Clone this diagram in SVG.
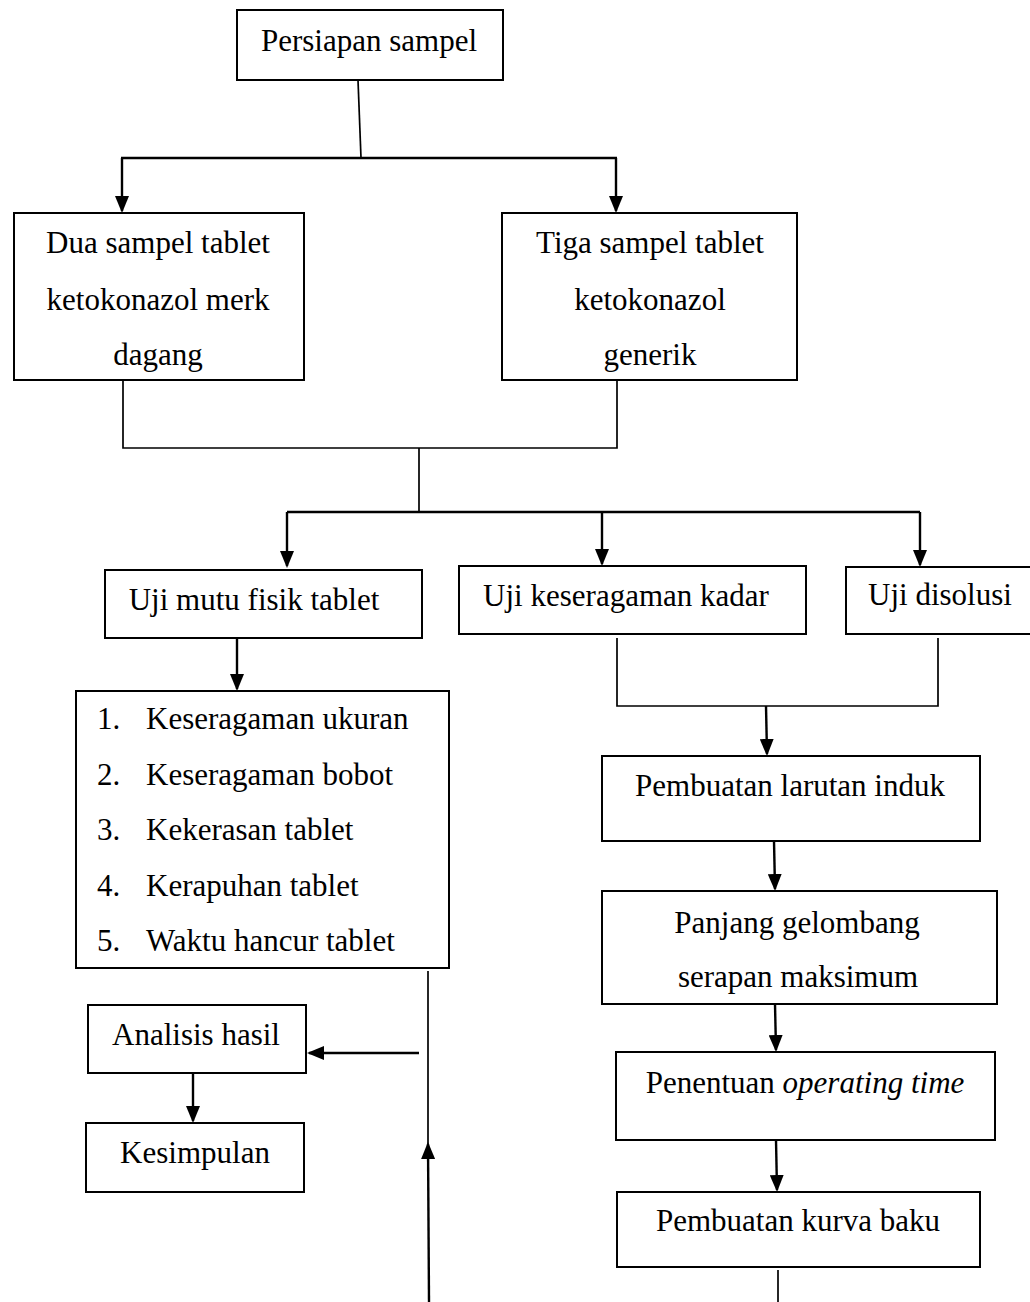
<svg xmlns="http://www.w3.org/2000/svg" width="1030" height="1302" viewBox="0 0 1030 1302">
<style>
.box{fill:#fff;stroke:#000;stroke-width:2}
.t{font-family:"Liberation Serif","Times New Roman",serif;font-size:31px;fill:#000;text-anchor:middle}
.l{font-family:"Liberation Serif","Times New Roman",serif;font-size:31px;fill:#000}
.c{fill:none;stroke:#000;stroke-width:1.7}
.a{fill:none;stroke:#000;stroke-width:2.4}
</style>
<defs>
<marker id="ah" viewBox="0 0 17 14" refX="15" refY="7" markerWidth="17" markerHeight="14" markerUnits="userSpaceOnUse" orient="auto">
<path d="M0,0 L17,7 L0,14 z" fill="#000"/>
</marker>
</defs>
<rect width="1030" height="1302" fill="#fff"/>
<g id="connectors">
<path class="c" d="M358,80 L361,158"/>
<path class="a" d="M121,158 L617,158"/>
<path class="a" d="M122,158 L122,211" marker-end="url(#ah)"/>
<path class="a" d="M616,158 L616,211" marker-end="url(#ah)"/>
<path class="c" d="M123,380 L123,448 L617,448 L617,380"/>
<path class="c" d="M419,448 L419,512"/>
<path class="a" d="M287,512 L920,512"/>
<path class="a" d="M287,512 L287,566" marker-end="url(#ah)"/>
<path class="a" d="M602,512 L602,564" marker-end="url(#ah)"/>
<path class="a" d="M920,512 L920,565" marker-end="url(#ah)"/>
<path class="a" d="M237,638 L237,689" marker-end="url(#ah)"/>
<path class="c" d="M617,638 L617,706 L938,706 L938,638"/>
<path class="a" d="M766,706 L767,754" marker-end="url(#ah)"/>
<path class="a" d="M774,841 L775,889" marker-end="url(#ah)"/>
<path class="a" d="M775,1004 L776,1050" marker-end="url(#ah)"/>
<path class="a" d="M776,1140 L777,1190" marker-end="url(#ah)"/>
<path class="c" d="M778,1270 L778,1302"/>
<path class="c" d="M428,971 L428,1150"/>
<path class="a" d="M429,1302 L428,1144" marker-end="url(#ah)"/>
<path class="a" d="M419,1053 L309,1053" marker-end="url(#ah)"/>
<path class="a" d="M193,1073 L193,1121" marker-end="url(#ah)"/>
</g>
<g id="n-persiapan">
<rect class="box" x="237" y="10" width="266" height="70"/>
<text class="t" x="369" y="51">Persiapan sampel</text>
</g>
<g id="n-dua">
<rect class="box" x="14" y="213" width="290" height="167"/>
<text class="t" x="158" y="253">Dua sampel tablet</text>
<text class="t" x="158" y="310">ketokonazol merk</text>
<text class="t" x="158" y="365">dagang</text>
</g>
<g id="n-tiga">
<rect class="box" x="502" y="213" width="295" height="167"/>
<text class="t" x="650" y="253">Tiga sampel tablet</text>
<text class="t" x="650" y="310">ketokonazol</text>
<text class="t" x="650" y="365">generik</text>
</g>
<g id="n-mutu">
<rect class="box" x="105" y="570" width="317" height="68"/>
<text class="t" x="254" y="610">Uji mutu fisik tablet</text>
</g>
<g id="n-kadar">
<rect class="box" x="459" y="566" width="347" height="68"/>
<text class="t" x="626" y="606">Uji keseragaman kadar</text>
</g>
<g id="n-disolusi">
<rect class="box" x="846" y="567" width="190" height="67"/>
<text class="t" x="940" y="605">Uji disolusi</text>
</g>
<g id="n-list">
<rect class="box" x="76" y="691" width="373" height="277"/>
<text class="l" x="97" y="729">1.</text><text class="l" x="146" y="729">Keseragaman ukuran</text>
<text class="l" x="97" y="785">2.</text><text class="l" x="146" y="785">Keseragaman bobot</text>
<text class="l" x="97" y="840">3.</text><text class="l" x="146" y="840">Kekerasan tablet</text>
<text class="l" x="97" y="896">4.</text><text class="l" x="146" y="896">Kerapuhan tablet</text>
<text class="l" x="97" y="951">5.</text><text class="l" x="146" y="951">Waktu hancur tablet</text>
</g>
<g id="n-analisis">
<rect class="box" x="88" y="1005" width="218" height="68"/>
<text class="t" x="196" y="1045">Analisis hasil</text>
</g>
<g id="n-kesimpulan">
<rect class="box" x="86" y="1123" width="218" height="69"/>
<text class="t" x="195" y="1163">Kesimpulan</text>
</g>
<g id="n-induk">
<rect class="box" x="602" y="756" width="378" height="85"/>
<text class="t" x="790" y="796">Pembuatan larutan induk</text>
</g>
<g id="n-panjang">
<rect class="box" x="602" y="891" width="395" height="113"/>
<text class="t" x="797" y="933">Panjang gelombang</text>
<text class="t" x="798" y="987">serapan maksimum</text>
</g>
<g id="n-ot">
<rect class="box" x="616" y="1052" width="379" height="88"/>
<text class="t" x="805" y="1093">Penentuan <tspan font-style="italic">operating time</tspan></text>
</g>
<g id="n-kurva">
<rect class="box" x="617" y="1192" width="363" height="75"/>
<text class="t" x="798" y="1231">Pembuatan kurva baku</text>
</g>
</svg>
